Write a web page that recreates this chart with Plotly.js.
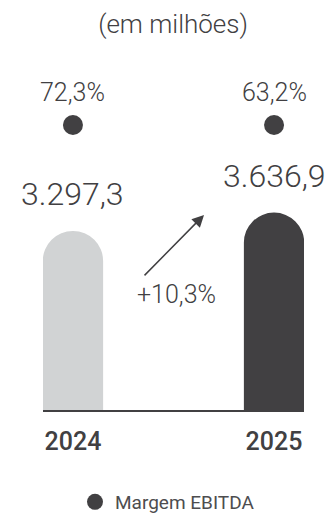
<!DOCTYPE html>
<html>
<head>
<meta charset="utf-8">
<script src="https://cdn.plot.ly/plotly-3.0.1.min.js"></script>
<style>
  html, body { margin: 0; padding: 0; background: #ffffff; }
  #chart { width: 329px; height: 513px; }
</style>
</head>
<body>
<div id="chart"></div>
<script>
// EBITDA (em milhões) and margem EBITDA per year
const years = ['2024', '2025'];
const ebitda = [3297.3, 3636.9];
const ebitdaLabels = ['3.297,3', '3.636,9'];
const margem = [72.3, 63.2];
const margemLabels = ['72,3%', '63,2%'];
const growthLabel = '+10,3%';
const barColors = ['#d1d3d4', '#414042'];

const DARK = '#414042';
const FONT = 'Roboto, "DejaVu Sans", sans-serif';

const bars = {
  type: 'bar',
  x: years,
  y: ebitda,
  marker: { color: barColors, cornerradius: '50%' },
  hoverinfo: 'skip',
  showlegend: false
};

// margin dots sit on their own row above the bars
const dots = {
  type: 'scatter',
  mode: 'markers',
  x: years,
  y: margem.map(() => 0),
  yaxis: 'y2',
  name: 'Margem EBITDA',
  marker: { color: DARK, size: 20 },
  hoverinfo: 'skip',
  showlegend: true
};

const annotations = [];
years.forEach((yr, i) => {
  // category axes take the serial index of each year
  annotations.push({
    x: i, y: ebitda[i], xref: 'x', yref: 'y',
    text: ebitdaLabels[i], showarrow: false,
    yanchor: 'bottom', yshift: 16,
    font: { family: FONT, size: 32, color: DARK, weight: 300 }
  });
  annotations.push({
    x: i, y: 0, xref: 'x', yref: 'y2',
    text: margemLabels[i], showarrow: false,
    yanchor: 'middle', yshift: 33,
    font: { family: FONT, size: 25, color: DARK, weight: 300 }
  });
});

// growth arrow between the two bars
annotations.push({
  x: 0.617, y: 0.542, xref: 'paper', yref: 'paper',
  ax: -61, ay: 62, axref: 'pixel', ayref: 'pixel',
  text: '', showarrow: true,
  arrowhead: 2, arrowsize: 1.6, arrowwidth: 1.5, arrowcolor: DARK
});
annotations.push({
  x: 0.51, y: 0.322, xref: 'paper', yref: 'paper',
  text: growthLabel, showarrow: false,
  xanchor: 'center', yanchor: 'middle',
  font: { family: FONT, size: 25, color: DARK, weight: 300 }
});

const layout = {
  width: 329,
  height: 513,
  margin: { l: 43, r: 25, t: 50, b: 103, autoexpand: false },
  paper_bgcolor: '#ffffff',
  plot_bgcolor: '#ffffff',
  bargap: 0.70,
  title: {
    text: '(em milhões)',
    xref: 'container', yref: 'container',
    x: 0.526, y: 1 - 24 / 513,
    xanchor: 'center', yanchor: 'middle',
    font: { family: FONT, size: 26, color: DARK, weight: 300 }
  },
  xaxis: {
    type: 'category',
    range: [-0.149, 1.149],
    showgrid: false, zeroline: false,
    showline: true, linecolor: DARK, linewidth: 2,
    ticks: '', ticklabelstandoff: 8,
    tickfont: { family: FONT, size: 25, color: DARK, weight: 500 },
    fixedrange: true
  },
  yaxis: {
    domain: [0, 0.7222],
    range: [0, 4790],
    showgrid: false, zeroline: false, showline: false,
    showticklabels: false, ticks: '',
    fixedrange: true
  },
  yaxis2: {
    domain: [0.75, 1],
    range: [-1, 5],
    showgrid: false, zeroline: false, showline: false,
    showticklabels: false, ticks: '',
    fixedrange: true
  },
  showlegend: true,
  legend: {
    orientation: 'h',
    x: 0.477, xanchor: 'center',
    y: -0.2556, yanchor: 'middle',
    font: { family: FONT, size: 19, color: '#4d4d4f' },
    bgcolor: 'rgba(0,0,0,0)'
  },
  annotations: annotations
};

Plotly.newPlot('chart', [bars, dots], layout, { displayModeBar: false, staticPlot: true });
</script>
</body>
</html>
